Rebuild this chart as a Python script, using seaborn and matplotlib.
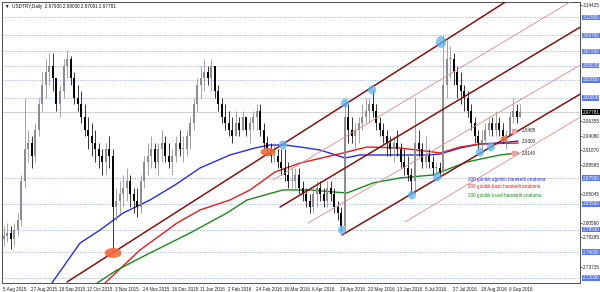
import numpy as np
import pandas as pd
import matplotlib
matplotlib.use("Agg")
import matplotlib.pyplot as plt
import seaborn as sns
from matplotlib.patches import Ellipse, Rectangle

# ---------------- data ----------------
date_labels = ["5 Aug 2015", "27 Aug 2015", "18 Sep 2015", "12 Oct 2015", "3 Nov 2015",
               "24 Nov 2015", "16 Dec 2015", "11 Jan 2016", "2 Feb 2016", "24 Feb 2016",
               "16 Mar 2016", "6 Apr 2016", "28 Apr 2016", "20 May 2016", "13 Jun 2016",
               "5 Jul 2016", "27 Jul 2016", "18 Aug 2016", "9 Sep 2016"]
bars_per_label = 16
bar_days = 2  # each drawn bar summarises two trading days

lo = [2.770, 2.775, 2.765, 2.770, 2.785, 2.800, 2.860, 2.900, 2.890, 2.900,
      2.940, 2.980, 3.000, 3.020, 3.010, 2.980, 2.970, 3.000, 3.030, 3.020,
      2.990, 2.980, 2.960, 2.940, 2.920, 2.910, 2.900, 2.890, 2.880, 2.880,
      2.890, 2.758, 2.810, 2.820, 2.830, 2.840, 2.830, 2.820, 2.815, 2.820,
      2.860, 2.880, 2.890, 2.890, 2.880, 2.900, 2.900, 2.890, 2.880, 2.900,
      2.910, 2.900, 2.910, 2.920, 2.950, 2.980, 3.000, 3.010, 3.020, 3.010,
      3.000, 2.980, 2.960, 2.950, 2.940, 2.930, 2.940, 2.940, 2.950, 2.940,
      2.930, 2.950, 2.950, 2.940, 2.920, 2.910, 2.900, 2.900, 2.890, 2.880,
      2.870, 2.860, 2.860, 2.860, 2.850, 2.840, 2.830, 2.820, 2.820, 2.830,
      2.840, 2.830, 2.830, 2.840, 2.820, 2.810, 2.792, 2.795, 2.930, 2.930,
      2.920, 2.930, 2.950, 2.960, 2.960, 2.970, 2.950, 2.940, 2.930, 2.910,
      2.910, 2.900, 2.910, 2.890, 2.880, 2.870, 2.850, 2.850, 2.910, 2.890,
      2.890, 2.890, 2.880, 2.880, 2.877, 2.880, 3.000, 3.030, 3.020, 3.000,
      2.990, 2.980, 2.970, 2.950, 2.930, 2.920, 2.915, 2.930, 2.940, 2.940,
      2.940, 2.940, 2.930, 2.920, 2.940, 2.960, 2.960, 2.970]
hi = [2.800, 2.805, 2.800, 2.805, 2.820, 2.880, 3.000, 2.950, 2.940, 2.960,
      3.000, 3.040, 3.060, 3.070, 3.070, 3.030, 3.020, 3.060, 3.075, 3.065,
      3.040, 3.020, 3.010, 2.990, 2.970, 2.960, 2.950, 2.930, 2.920, 2.930,
      2.940, 2.920, 2.860, 2.870, 2.880, 2.890, 2.880, 2.860, 2.860, 2.880,
      2.910, 2.930, 2.940, 2.930, 2.930, 2.950, 2.940, 2.930, 2.920, 2.940,
      2.950, 2.940, 2.950, 2.970, 3.000, 3.030, 3.050, 3.060, 3.050, 3.060,
      3.050, 3.020, 3.000, 2.990, 2.980, 2.970, 2.980, 2.970, 2.980, 2.970,
      2.970, 2.980, 2.990, 2.990, 2.960, 2.940, 2.930, 2.930, 2.920, 2.920,
      2.920, 2.900, 2.890, 2.890, 2.890, 2.870, 2.860, 2.850, 2.860, 2.870,
      2.870, 2.860, 2.870, 2.870, 2.860, 2.840, 2.830, 2.995, 2.990, 2.970,
      2.960, 2.970, 2.990, 3.000, 3.000, 3.012, 2.990, 2.970, 2.960, 2.950,
      2.940, 2.940, 2.950, 2.930, 2.920, 2.910, 2.890, 3.000, 2.950, 2.930,
      2.940, 2.920, 2.910, 2.900, 2.900, 3.097, 3.090, 3.080, 3.070, 3.050,
      3.040, 3.020, 3.010, 2.990, 2.970, 2.950, 2.950, 2.960, 2.970, 2.970,
      2.980, 2.970, 2.960, 2.950, 2.980, 3.000, 2.990, 2.990]
cl = [2.785, 2.790, 2.780, 2.795, 2.810, 2.870, 2.920, 2.930, 2.910, 2.950,
      2.990, 3.020, 3.040, 3.050, 3.030, 2.990, 3.010, 3.050, 3.060, 3.030,
      3.000, 2.990, 2.970, 2.950, 2.940, 2.930, 2.920, 2.910, 2.900, 2.920,
      2.910, 2.830, 2.840, 2.850, 2.860, 2.870, 2.850, 2.840, 2.830, 2.870,
      2.900, 2.910, 2.920, 2.900, 2.920, 2.930, 2.910, 2.900, 2.910, 2.930,
      2.920, 2.920, 2.940, 2.960, 2.990, 3.020, 3.030, 3.040, 3.030, 3.050,
      3.010, 2.990, 2.970, 2.960, 2.950, 2.940, 2.960, 2.950, 2.970, 2.950,
      2.960, 2.970, 2.980, 2.950, 2.930, 2.920, 2.910, 2.910, 2.900, 2.890,
      2.880, 2.870, 2.870, 2.880, 2.860, 2.850, 2.840, 2.830, 2.850, 2.860,
      2.850, 2.840, 2.860, 2.850, 2.830, 2.820, 2.800, 2.970, 2.950, 2.940,
      2.950, 2.960, 2.970, 2.980, 2.990, 2.980, 2.960, 2.950, 2.940, 2.930,
      2.920, 2.930, 2.920, 2.900, 2.890, 2.880, 2.870, 2.930, 2.920, 2.900,
      2.910, 2.900, 2.890, 2.890, 2.885, 3.020, 3.060, 3.060, 3.040, 3.020,
      3.010, 3.000, 2.980, 2.960, 2.940, 2.930, 2.935, 2.950, 2.960, 2.950,
      2.960, 2.950, 2.940, 2.940, 2.970, 2.980, 2.970, 2.978]
first_open = 2.780

# moving averages (bar index, price)
wma_idx = [27.9, 43.9, 55.3, 68.4, 83.7, 97.9, 112.2, 129.2, 143.5, 152.0, 160.6, 169.1,
           180.5, 194.7, 203.2, 214.6, 226.0, 243.1, 248.8, 260.2, 271.5, 282.9, 293.2]
wma_val = [2.7119, 2.7741, 2.7943, 2.8208, 2.8410, 2.8643, 2.8908, 2.9110, 2.9219, 2.9265,
           2.9265, 2.9234, 2.9187, 2.9063, 2.9110, 2.9110, 2.9110, 2.9110, 2.9125, 2.9219,
           2.9281, 2.9296, 2.9327]
sma_idx = [58.1, 78.0, 99.1, 112.2, 129.2, 140.6, 154.9, 169.1, 193.6, 207.2, 226.0,
           244.8, 248.8, 260.2, 271.5, 293.2]
sma_val = [2.7119, 2.7632, 2.8052, 2.8255, 2.8410, 2.8566, 2.8846, 2.8985, 2.9141, 2.9234,
           2.9219, 2.9156, 2.9141, 2.9234, 2.9281, 2.9296]
ema_idx = [53.6, 64.9, 83.7, 106.5, 127.5, 138.9, 159.4, 174.8, 187.9, 195.8, 210.6,
           226.0, 244.8, 264.1, 282.9, 293.2]
ema_val = [2.7119, 2.7321, 2.7586, 2.7897, 2.8208, 2.8410, 2.8566, 2.8566, 2.8535, 2.8519,
           2.8675, 2.8753, 2.8799, 2.9002, 2.9110, 2.9141]

# channel lines: (x0, y0, x1, y1) in bar index / price
thick_lines = [(36.5, 2.7135, 288.6, 3.1536),
               (193.0, 2.7866, 329.6, 3.0074),
               (157.7, 2.8301, 329.6, 3.1116)]
thin_lines = [(153.7, 2.8721, 322.8, 3.1489),
              (173.6, 2.8052, 329.6, 3.0525),
              (228.8, 2.8068, 329.6, 2.9716)]

# marked pivots
blue_marks_x = [159.4, 194.7, 210.1, 193.0, 249.3, 232.8, 247.1, 271.5, 277.8]
blue_marks_y = [2.9265, 2.9918, 3.0121, 2.7943, 3.0867, 2.8488, 2.8768, 2.9156, 2.9234]
orange_marks_x = [62.7, 150.9, 285.2]
orange_marks_y = [2.7586, 2.9156, 2.9358]

level_lines = [3.125, 3.097, 3.072, 3.050, 3.028, 3.000, 2.875, 2.835, 2.795, 2.760, 2.720]
axis_ticks = [3.14425, 3.12150, 3.07860, 3.05385, 3.03250, 3.00905, 2.98630, 2.96355,
              2.94080, 2.91870, 2.89595, 2.85045, 2.82835, 2.80560, 2.78285, 2.73735, 2.71525]
last_price = 2.97781
ma_labels = ["200 günlük ağırlıklı hareketli ortalama",
             "200 günlük basit hareketli ortalama",
             "200 günlük üssel hareketli ortalama"]
value_labels = ["2.9485", "2.9300", "2.9140"]
value_label_y = [2.9485, 2.9320, 2.9140]

# ---------------- figure ----------------
sns.set_theme(style="white")
plt.rcParams['font.family'] = ['Liberation Sans', 'DejaVu Sans']
FS = 3.3

fig = plt.figure(figsize=(6.0, 2.92), dpi=100)
fig.patch.set_facecolor("white")
ax = fig.add_axes([2/600, 9/292, 578/600, 281/292])
ax.set_facecolor("white")

px_per_bar = 1.757
xmin, xmax = -0.51, 328.4
ymin, ymax = 2.7119, 3.1489
ax.set_xlim(xmin, xmax)
ax.set_ylim(ymin, ymax)
upx = 1.0 / px_per_bar            # one pixel in bar units
upy = (ymax - ymin) / 281.0       # one pixel in price units

for lv in level_lines:
    ax.axhline(lv, color="#9cb0f2", lw=0.6, ls=(0, (1.5, 1.5)), zorder=1)
ax.axhline(last_price, color="#d0d0d0", lw=0.7, zorder=1)

# moving averages
ma_df = pd.concat([
    pd.DataFrame({"x": wma_idx, "y": wma_val, "ma": "wma"}),
    pd.DataFrame({"x": sma_idx, "y": sma_val, "ma": "sma"}),
    pd.DataFrame({"x": ema_idx, "y": ema_val, "ma": "ema"}),
])
sns.lineplot(data=ma_df, x="x", y="y", hue="ma", sort=False, estimator=None,
             palette={"wma": "#2a2af0", "sma": "#f01818", "ema": "#1a8a1a"},
             lw=1.0, legend=False, ax=ax, zorder=3)

# bars
n = len(cl)
opens = [first_open] + cl[:-1]
bx = np.arange(n) * bar_days + 0.5
for i in range(n):
    up = cl[i] >= opens[i]
    col = "#8c8c8c" if up else "#000000"
    ax.vlines(bx[i], lo[i], hi[i], color=col, lw=0.55, zorder=4)
    b0, b1 = sorted([opens[i], cl[i]])
    if b1 - b0 < upy:
        b1 = b0 + upy
    ax.vlines(bx[i], b0, b1, color=col, lw=1.4, zorder=4)

# channel lines
for (x0, y0, x1, y1) in thin_lines:
    ax.plot([x0, x1], [y0, y1], color="#d88a8a", lw=0.6, zorder=5)
for (x0, y0, x1, y1) in thick_lines:
    ax.plot([x0, x1], [y0, y1], color="#8b0f0f", lw=1.1, zorder=5)

# pivot markers
for i, (x, y) in enumerate(zip(blue_marks_x, blue_marks_y)):
    w = 10 if i == 4 else 8
    h = 12 if i == 4 else 9
    ax.add_patch(Ellipse((x, y), w * upx, h * upy, color="#5ab4f0", alpha=0.75,
                         lw=0, zorder=6))
for i, (x, y) in enumerate(zip(orange_marks_x, orange_marks_y)):
    w, h = [(17, 10), (15, 8), (7, 6)][i]
    ax.add_patch(Ellipse((x, y), w * upx, h * upy, color="#f26a3a", alpha=0.9,
                         lw=0, zorder=6))

# MA legend text
lx = 264.5
for txt, yv, col in zip(ma_labels, [2.8736, 2.8612, 2.8473], ["#2a2af0", "#f01818", "#1a8a1a"]):
    ax.text(lx, yv, txt, color=col, fontsize=FS, va="center", ha="left", zorder=7)

# value labels
for txt, yv in zip(value_labels, value_label_y):
    ax.text(295.5, yv, txt, color="#202020", fontsize=FS, va="center", ha="left", zorder=7)
ax.add_patch(Rectangle((289.5, 2.9455), 4 * upx, 4 * upy, color="#f0a0a0", zorder=6))
ax.add_patch(Rectangle((289.5, 2.9115), 4 * upx, 4 * upy, color="#f0a0a0", zorder=6))

# title
ax.text(1.2, 3.1489 - 4.5 * upy, "\u25bc  USDTRY,Daily  2.97930 2.98030 2.97091 2.97781",
        fontsize=FS, color="#101010", va="center", ha="left", zorder=7)

# axes
for s in ax.spines.values():
    s.set_color("#505050")
    s.set_linewidth(0.7)
ax.yaxis.tick_right()
# hide scale ticks that sit under a highlighted level label
marked = level_lines + [last_price]
shown = [t for t in axis_ticks if min(abs(t - m) for m in marked) > 6 * upy]
ax.set_yticks(shown)
ax.set_yticklabels([f"{t:.5f}" for t in shown], fontsize=FS, color="#202020")
ax.tick_params(axis="y", length=1.5, width=0.5, pad=0.6, colors="#202020")
ax.set_xticks(np.arange(len(date_labels)) * bars_per_label)
ax.set_xticklabels(date_labels, fontsize=FS, color="#202020", ha="left")
ax.tick_params(axis="x", length=2, width=0.5, pad=1)
ax.set_xlabel("")
ax.set_ylabel("")

# highlighted level labels on the price scale
for lv in level_lines:
    ax.text(1.0045, (lv - ymin) / (ymax - ymin), f"{lv:.5f}", transform=ax.transAxes,
            fontsize=FS, color="white", va="center", ha="left", clip_on=False,
            bbox=dict(boxstyle="square,pad=0.08", fc="#5a78e6", ec="none"), zorder=8)
ax.text(1.0045, (last_price - ymin) / (ymax - ymin), f"{last_price:.5f}", transform=ax.transAxes,
        fontsize=FS, color="white", va="center", ha="left", clip_on=False,
        bbox=dict(boxstyle="square,pad=0.08", fc="black", ec="none"), zorder=9)

fig.savefig("out.png", dpi=100, facecolor="white")
